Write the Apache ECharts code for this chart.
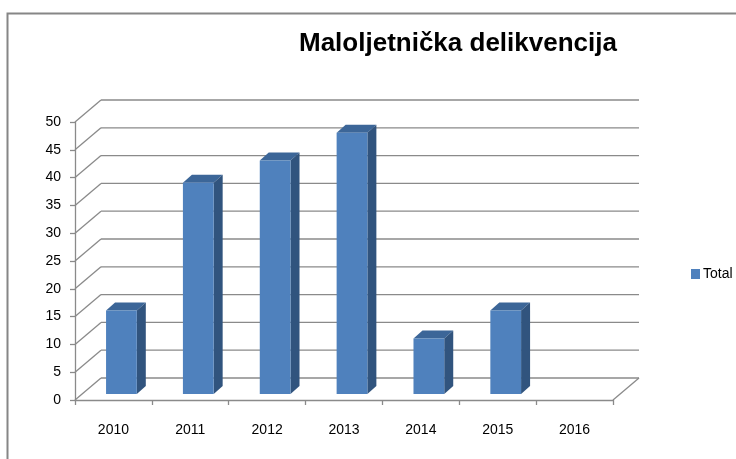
<!DOCTYPE html>
<html>
<head>
<meta charset="utf-8">
<script src="https://cdn.jsdelivr.net/npm/echarts@6/dist/echarts.min.js"></script>
<style>html,body{margin:0;padding:0;background:#fff}#c{width:736px;height:459px}</style>
</head>
<body>
<div id="c"></div>
<script>
const categories = ['2010', '2011', '2012', '2013', '2014', '2015', '2016'];
const totalValues = [15, 38, 42, 47, 10, 15, null];
const yTicks = [0, 5, 10, 15, 20, 25, 30, 35, 40, 45, 50];
const seriesName = 'Total';
const titleText = 'Maloljetnička delikvencija';

const DX = 26, DY = -22;          // depth of the floor / walls
const BAR_OX = 8, BAR_OY = -6;    // bar front face offset into depth
const BAR_DX = 9, BAR_DY = -8;    // bar depth
const GRID = '#8a8a8a';
const FONT = "'Liberation Sans', sans-serif";

const chart = echarts.init(document.getElementById('c'), null, {renderer: 'canvas'});

chart.setOption({
  backgroundColor: '#fff',
  animation: false,
  title: {
    text: titleText, left: 294, top: 26,
    textStyle: {fontFamily: FONT, fontWeight: 'bold', fontSize: 26, color: '#000'}
  },
  legend: {
    data: [seriesName], left: 686, top: 262, icon: 'rect', itemWidth: 9, itemHeight: 10, itemGap: 0,
    textStyle: {fontFamily: FONT, fontSize: 14, color: '#000', padding: [0, 0, 0, -2]}
  },
  graphic: [{
    type: 'rect', shape: {x: 7.5, y: 13.5, width: 760, height: 470},
    style: {fill: 'none', stroke: '#868686', lineWidth: 2}, silent: true
  }],
  grid: {left: 75, right: 123, top: 122, bottom: 59},
  xAxis: {
    type: 'category', data: categories,
    axisLine: {show: true, lineStyle: {color: GRID, width: 1.3}},
    axisTick: {show: true, length: 5, lineStyle: {color: GRID, width: 1.3}},
    axisLabel: {fontFamily: FONT, fontSize: 14, color: '#000', margin: 23},
    splitLine: {show: false}
  },
  yAxis: {
    type: 'value', min: 0, max: 50, interval: 5,
    axisLine: {show: true, lineStyle: {color: GRID, width: 1.3}},
    axisTick: {show: true, length: 5, lineStyle: {color: GRID, width: 1.3}},
    axisLabel: {fontFamily: FONT, fontSize: 14, color: '#000', margin: 14},
    splitLine: {show: false}
  },
  series: [
    {
      type: 'custom', name: 'walls', silent: true, clip: false, z: 1,
      data: yTicks.map(t => [0, t]),
      renderItem: function (params, api) {
        const cs = params.coordSys;
        const y = api.coord([0, api.value(1)])[1];
        const l = cs.x, r = cs.x + cs.width;
        const st = {stroke: GRID, lineWidth: 1.3, fill: null};
        const children = [
          {type: 'line', shape: {x1: l, y1: y, x2: l + DX, y2: y + DY}, style: st},
          {type: 'line', shape: {x1: l + DX, y1: y + DY, x2: r + DX, y2: y + DY}, style: st}
        ];
        if (api.value(1) === 0) {
          children.push({type: 'line', shape: {x1: r, y1: y, x2: r + DX, y2: y + DY}, style: st});
        }
        return {type: 'group', children: children};
      }
    },
    {
      type: 'custom', name: seriesName, clip: false, z: 3,
      itemStyle: {color: '#4F81BD'},
      data: totalValues.map((v, i) => [i, v == null ? '-' : v]),
      renderItem: function (params, api) {
        const v = api.value(1);
        if (v == null || isNaN(v)) return null;
        const top = api.coord([api.value(0), v]);
        const base = api.coord([api.value(0), 0]);
        const band = api.size([1, 0])[0];
        const w = band * 0.4;
        const x0 = top[0] - w / 2 + BAR_OX, x1 = x0 + w;
        const yT = top[1] + BAR_OY, yB = base[1] + BAR_OY;
        return {
          type: 'group',
          children: [
            {type: 'polygon', shape: {points: [[x0, yT], [x1, yT], [x1 + BAR_DX, yT + BAR_DY], [x0 + BAR_DX, yT + BAR_DY]]},
              style: {fill: '#3C6698'}},
            {type: 'polygon', shape: {points: [[x1, yT], [x1 + BAR_DX, yT + BAR_DY], [x1 + BAR_DX, yB + BAR_DY], [x1, yB]]},
              style: {fill: '#31547E'}},
            {type: 'rect', shape: {x: x0, y: yT, width: w, height: yB - yT},
              style: {fill: '#4F81BD'}}
          ]
        };
      }
    }
  ]
});
</script>
</body>
</html>
